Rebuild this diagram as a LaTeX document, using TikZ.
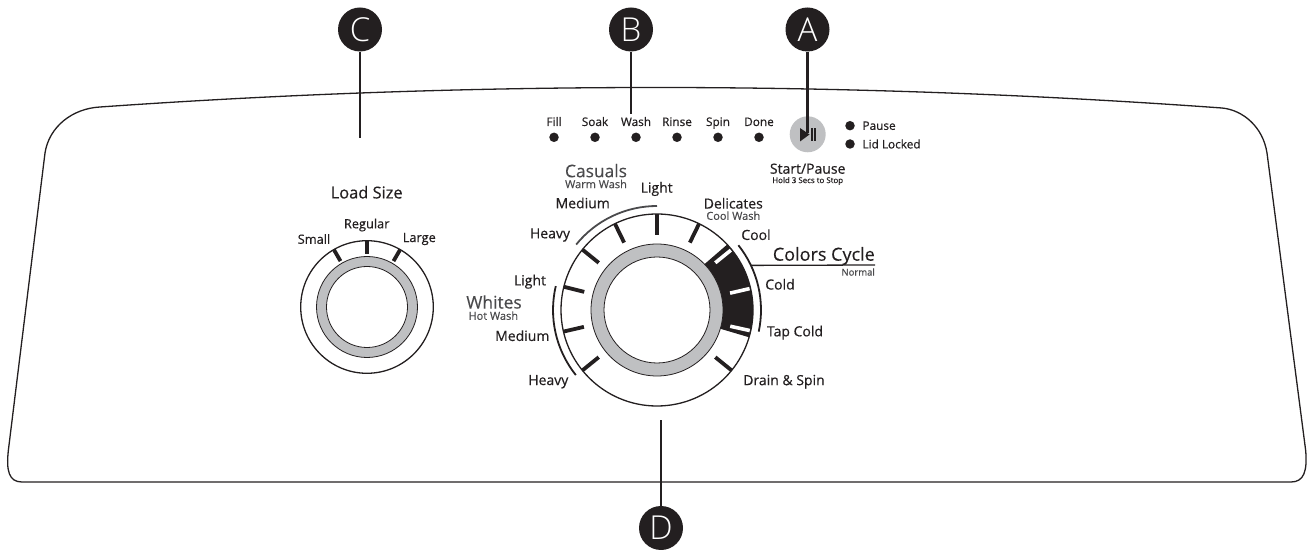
\documentclass[tikz,border=0pt]{standalone}
\usepackage{fontspec}
\usetikzlibrary{calc}
\setmainfont{Open Sans}[FakeBold=0.5]
\newfontfamily\regf{Open Sans}[FakeBold=0.25]
\newfontfamily\ltf{Open Sans Light}
\definecolor{ink}{HTML}{231F20}
\definecolor{ringgray}{HTML}{BFC0C2}
\definecolor{softink}{HTML}{4A4A4C}
\tikzset{
 x=1pt,y=1pt,
 lbl/.style={font=\fontsize{14}{14}\selectfont,text=ink,inner sep=0pt},
 loadlbl/.style={font=\fontsize{12.8}{12.8}\selectfont,text=ink,inner sep=0pt},
 smalllbl/.style={font=\fontsize{11.8}{11.8}\selectfont,text=ink,inner sep=0pt},
 tinylbl/.style={font=\fontsize{11}{11}\selectfont,text=softink,inner sep=0pt},
 microlbl/.style={font=\fontsize{7.9}{7.9}\selectfont,text=ink,inner sep=0pt},
 biglbl/.style={font=\regf\fontsize{17.4}{17.4}\selectfont,text=softink,inner sep=0pt},
 badge/.style={circle,fill=ink,minimum size=44pt,inner sep=0pt,text=white,font=\ltf\fontsize{33}{33}\selectfont},
 dotn/.style={circle,fill=ink,minimum size=9.5pt,inner sep=0pt},
 leader/.style={draw=ink,line width=2.6pt},
 tick/.style={draw=ink,line width=3.8pt},
 wtick/.style={draw=white,line width=3.6pt}
}
\begin{document}
\begin{tikzpicture}
\useasboundingbox (0,0) rectangle (1311,549);
% panel
\draw[ink,line width=1.3pt] (100,442) .. controls (285,455) and (470,461.5) .. (656,461.5)
 .. controls (845,461.5) and (1033,454.6) .. (1222,441)
 .. controls (1243,439) and (1263,422) .. (1267,396)
 -- (1305.6,99) .. controls (1307.5,78) and (1304,67) .. (1291,67)
 -- (22,67) .. controls (9,67) and (6,78) .. (8.4,99)
 -- (45,396) .. controls (49,422) and (72,440.5) .. (100,442) -- cycle;
% load dial
\coordinate (L) at (367,242);
\draw[ink,line width=1.3pt] (L) circle (66.3);
\draw[ink,line width=.8pt,fill=ringgray] (L) circle (50.5);
\draw[ink,line width=.8pt,fill=white] (L) circle (40.5);
\foreach \a in {60,90,120} \draw[tick] ($(L)+(\a:66)$) -- ($(L)+(\a:53)$);
\node[loadlbl] (regular) at (366.7,324) {Regular};
\node[loadlbl] (small) at (314,310) {Small};
\node[loadlbl] (large) at (419.3,310) {Large};
\node[font=\fontsize{16.4}{16.4}\selectfont,text=ink,inner sep=0pt] (loadsize) at (366.7,356.7) {Load Size};
% wash dial
\coordinate (M) at (657,239);
\fill[ink] ($(M)+(44:66)$) arc (44:-16.5:66) -- ($(M)+(-16.5:96)$) arc (-16.5:43:96) -- cycle;
\draw[ink,line width=1.3pt] (M) circle (96);
\draw[ink,line width=.8pt,fill=ringgray] (M) circle (66);
\draw[ink,line width=.8pt,fill=white] (M) circle (53);
\foreach \a in {64,90,116,141,166,193,219,-39} \draw[tick] ($(M)+(\a:96)$) -- ($(M)+(\a:75)$);
\foreach \a in {39,13,-12.5} \draw[wtick] ($(M)+(\a:95)$) -- ($(M)+(\a:75)$);
% cycle arcs
\draw[softink,line width=1.8pt] ($(M)+(141:104)$) arc (141:90:104);
\draw[ink,line width=1.8pt] ($(M)+(166.7:104)$) arc (166.7:218.7:104);
\draw[ink,line width=1.8pt] ($(M)+(38.5:104)$) arc (38.5:-12:104);
\coordinate (colorsend) at (875,284);
\draw[ink,line width=1.3pt] ($(M)+(25.4:104)$) -- (colorsend);
% dial labels
\node[biglbl] (casuals) at (596,378.3) {Casuals};
\node[tinylbl] (warm) at (596,365) {Warm Wash};
\node[lbl] (l1) at (656.7,360) {Light};
\node[lbl] (m1) at (582.7,346) {Medium};
\node[lbl] (h1) at (550,314) {Heavy};
\node[lbl] (l2) at (530,267.3) {Light};
\node[biglbl] (whites) at (494,247) {Whites};
\node[tinylbl] (hot) at (493.3,233.3) {Hot Wash};
\node[lbl] (m2) at (522.3,213.3) {Medium};
\node[lbl] (h2) at (548.3,167.3) {Heavy};
\node[lbl] (drain) at (784,167.3) {Drain \& Spin};
\node[lbl] (tap) at (795,216.3) {Tap Cold};
\node[lbl] (cold) at (780,264.7) {Cold};
\node[lbl] (cool) at (756,314.3) {Cool};
\node[lbl] (del) at (733.3,345.7) {Delicates};
\node[tinylbl] (coolw) at (733.3,333.3) {Cool Wash};
\node[biglbl,text=ink,anchor=east,font=\regf\fontsize{18}{18}\selectfont] (colors) at (875,293) {Colors Cycle};
\node[tinylbl,anchor=east,font=\fontsize{9.5}{9.5}\selectfont] (normal) at (875,277) {Normal};
% status row
\foreach \n/\t/\x in {fill/Fill/554,soak/Soak/595,wash/Wash/636,rinse/Rinse/677,spin/Spin/718,done/Done/759}{
 \node[dotn] (d\n) at (\x,411.7) {};
 \node[smalllbl,anchor=base] (t\n) at (\x,423) {\t};
}
% start button
\node[circle,fill=ringgray,minimum size=36pt,inner sep=0pt] (btn) at (807.7,414.7) {};
\fill[ink] (800,421) -- (809.5,414.5) -- (800,407.5) -- cycle;
\fill[ink] (811,407.5) rectangle (812.8,421);
\fill[ink] (814.2,407.5) rectangle (816,421);
\node[dotn] (dp) at (850,423.3) {};
\node[dotn] (dl) at (850,405) {};
\node[smalllbl,anchor=west] (pause) at (862.3,423.3) {Pause};
\node[smalllbl,anchor=west] (lid) at (862.3,405) {Lid Locked};
\node[lbl] (sp) at (807.7,380.3) {Start/Pause};
\node[microlbl] (hold) at (807.7,368) {Hold 3 Secs to Stop};
% badges and leaders
\node[badge] (A) at (807.5,519.5) {A};
\node[badge] (B) at (631,519.5) {B};
\node[badge] (C) at (360,519.5) {C};
\node[badge] (D) at (661,21) {D};
\coordinate (Ae) at (807.5,416);
\coordinate (Be) at (631,435);
\coordinate (Ce) at (360,411);
\coordinate (De) at (661,129);
\draw[leader] (A) -- (Ae);
\draw[leader] (B) -- (Be);
\draw[leader] (C) -- (Ce);
\draw[leader] (D) -- (De);
\end{tikzpicture}
\end{document}
